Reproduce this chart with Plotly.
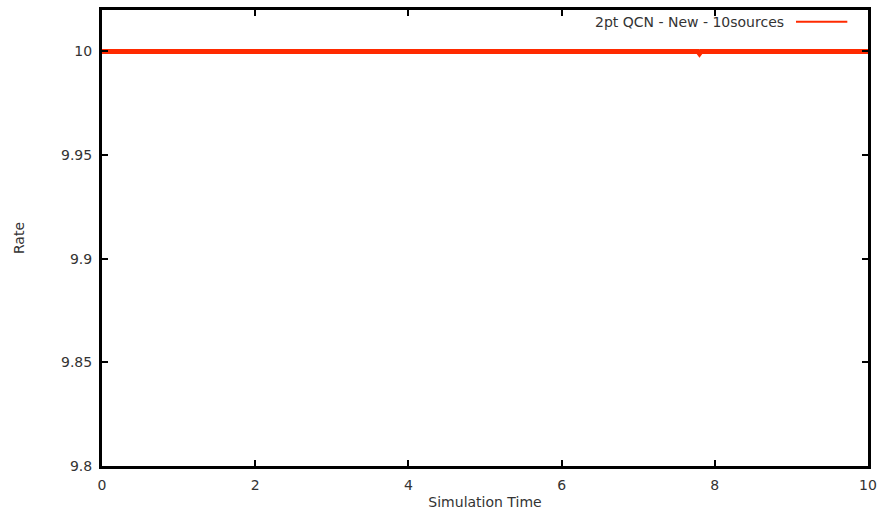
import plotly.graph_objects as go

series_name = "2pt QCN - New - 10sources"
sim_time = [0, 1, 2, 3, 4, 5, 6, 7, 7.78, 7.8, 7.82, 8, 9, 10]
rate = [10, 10, 10, 10, 10, 10, 10, 10, 10, 9.9990, 10, 10, 10, 10]
x_ticks = [0, 2, 4, 6, 8, 10]
y_ticks = [9.8, 9.85, 9.9, 9.95, 10]
y_tick_labels = ["9.8", "9.85", "9.9", "9.95", "10"]

font = dict(family="DejaVu Sans, Arial, sans-serif", size=14, color="#333")

fig = go.Figure()
fig.add_trace(go.Scatter(x=sim_time, y=rate, mode="lines", name=series_name,
                         line=dict(color="#ff2a00", width=5), showlegend=False))

axis_common = dict(showgrid=False, zeroline=False, showline=True, linecolor="black",
                   linewidth=3, mirror="allticks", ticks="inside", ticklen=6,
                   tickwidth=2, tickcolor="black", tickfont=font, automargin=False)

fig.update_layout(
    width=880, height=514, margin=dict(l=102, r=12, t=10, b=48),
    paper_bgcolor="white", plot_bgcolor="white", font=font,
    xaxis=dict(range=[0, 10], tickvals=x_ticks, ticklabelstandoff=4,
               title=dict(text="Simulation Time", font=font, standoff=6), **axis_common),
    yaxis=dict(range=[9.8, 10.02], tickvals=y_ticks, ticktext=y_tick_labels, ticklabelstandoff=4,
               title=dict(text="Rate", font=font, standoff=34), **axis_common),
)

# legend drawn as text + sample line (text left of sample, as in reference)
fig.add_annotation(xref="paper", yref="paper", x=0.893, y=0.974, xanchor="right", yanchor="middle",
                   text=series_name, showarrow=False, font=font)
fig.add_shape(type="line", xref="paper", yref="paper", x0=0.906, x1=0.973, y0=0.974, y1=0.974,
              line=dict(color="#ff2a00", width=2))

fig.write_html("out.html")
